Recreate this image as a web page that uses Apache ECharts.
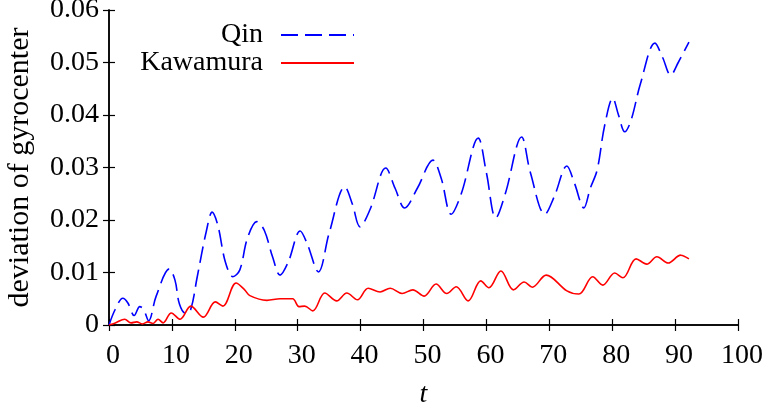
<!DOCTYPE html>
<html>
<head>
<meta charset="utf-8">
<script src="https://cdn.jsdelivr.net/npm/echarts@6/dist/echarts.min.js"></script>
<style>html,body{margin:0;padding:0;background:#fff}#c{width:765px;height:407px}</style>
</head>
<body>
<div id="c"></div>
<script>
var xTicks = [0,10,20,30,40,50,60,70,80,90,100];
var yTicks = [0,0.01,0.02,0.03,0.04,0.05,0.06];

var qinT = [0,1,2.2,3,4,4.9,5.5,6.3,7.5,9.6,10.5,11.2,12.2,13,14,15.5,16.4,17.3,18.5,19.7,20.8,22,23.5,24.7,26,27.2,28.5,30.4,31.5,33.3,35,37.5,38.7,39.9,41.5,44,45.5,47,49,51.5,52.8,54.4,56,58.7,60,61.5,63,65.6,67,69.3,70.8,72.8,74,75.5,76.5,77.6,78.8,80.1,81,82,83,84.5,86.8,88,89.3,90.5,92.2];
var qinV = [0,0.003,0.0051,0.0042,0.0018,0.0035,0.003,0.0008,0.0055,0.0107,0.0085,0.004,0.0022,0.003,0.009,0.018,0.0215,0.019,0.012,0.0092,0.0105,0.0165,0.0197,0.018,0.013,0.0095,0.012,0.0179,0.0155,0.0101,0.0175,0.0263,0.023,0.0187,0.022,0.0299,0.026,0.0223,0.026,0.0314,0.028,0.0211,0.025,0.0356,0.029,0.0204,0.025,0.0358,0.029,0.0211,0.0245,0.0303,0.027,0.0223,0.026,0.0295,0.038,0.0432,0.040,0.0368,0.039,0.046,0.0537,0.051,0.0476,0.050,0.0539];

var kawT = [0,1,2.5,3.5,4.4,5.3,6.2,7,7.8,8.6,9.9,11.3,13,15,16.9,18.1,20.2,21.5,22.4,25.1,27.2,29.2,30.2,31.1,32.4,34.3,36.2,37.8,39.5,41.2,43.1,44.7,46.6,48.3,50.1,52,53.7,55.2,57.1,59.1,60.4,62.3,64.3,66,67.3,69.5,72.8,74.7,76.9,78.5,80.4,81.7,83.8,85.5,87.1,88.9,90.9,92.2];
var kawV = [0,0.0004,0.0011,0.0004,0.0006,0.0002,0.0006,0.0003,0.0011,0.0004,0.0023,0.0011,0.0036,0.0015,0.0044,0.0036,0.008,0.0068,0.0056,0.0047,0.005,0.005,0.0035,0.0036,0.0027,0.0061,0.0046,0.0061,0.0048,0.007,0.0063,0.007,0.006,0.0067,0.0055,0.0078,0.006,0.0073,0.0046,0.0084,0.0071,0.0103,0.0067,0.0082,0.0072,0.0095,0.0065,0.0059,0.0092,0.0076,0.0099,0.009,0.0126,0.0116,0.013,0.0118,0.0133,0.0126];

function pairs(t, v){ return t.map(function(x,i){ return [x, v[i]]; }); }

var FONT = '"Liberation Serif", "Times New Roman", serif';
var FS = 28;
var chart = echarts.init(document.getElementById('c'), null, {renderer:'canvas'});
var axisCommon = {
  axisLine:{show:true, lineStyle:{color:'#000', width:1.5}},
  axisTick:{show:true, inside:true, length:6, lineStyle:{color:'#000', width:1.2}},
  splitLine:{show:false}
};
var legendText = {fontFamily:FONT, fontSize:FS, color:'#000', padding:[0,13,0,0]};
chart.setOption({
  animation:false,
  backgroundColor:'#fff',
  grid:{left:109, right:27, top:10, bottom:82, containLabel:false, outerBoundsMode:'none'},
  legend:[
    {data:['Qin'], orient:'vertical', right:405, top:16, align:'right', itemWidth:73, itemHeight:14,
     itemStyle:{opacity:0}, textStyle:legendText},
    {data:['Kawamura'], orient:'vertical', right:405, top:44, align:'right', itemWidth:73, itemHeight:14,
     itemStyle:{opacity:0}, textStyle:legendText}
  ],
  xAxis:[
    Object.assign({type:'value', min:0, max:100, interval:10, position:'bottom',
      name:'t', nameLocation:'middle', nameGap:56,
      nameTextStyle:{fontFamily:FONT, fontSize:FS, fontStyle:'italic', color:'#000'},
      axisLabel:{fontFamily:FONT, fontSize:FS, color:'#000', margin:17, padding:[0,0,0,8], formatter:function(v){return String(v);}}
    }, axisCommon),
    Object.assign({type:'value', min:0, max:100, interval:10, position:'top', axisLabel:{show:false}}, axisCommon)
  ],
  yAxis:[
    Object.assign({type:'value', min:0, max:0.06, interval:0.01, position:'left',
      name:'deviation of gyrocenter', nameLocation:'middle', nameGap:74, nameRotate:90,
      nameTextStyle:{fontFamily:FONT, fontSize:30, color:'#000'},
      axisLabel:{fontFamily:FONT, fontSize:FS, color:'#000', margin:10, formatter:function(v){return v===0?'0':v.toFixed(2);}}
    }, axisCommon),
    Object.assign({type:'value', min:0, max:0.06, interval:0.01, position:'right', axisLabel:{show:false}}, axisCommon)
  ],
  series:[
    {name:'Qin', type:'line', data:pairs(qinT,qinV), showSymbol:false, symbol:'none', smooth:0.35,
     lineStyle:{color:'#0000ff', width:1.6, type:[17,7]}, itemStyle:{color:'#0000ff'}},
    {name:'Kawamura', type:'line', data:pairs(kawT,kawV), showSymbol:false, symbol:'none', smooth:0.35,
     lineStyle:{color:'#ff0000', width:1.6, type:'solid'}, itemStyle:{color:'#ff0000'}}
  ]
});
</script>
</body>
</html>
